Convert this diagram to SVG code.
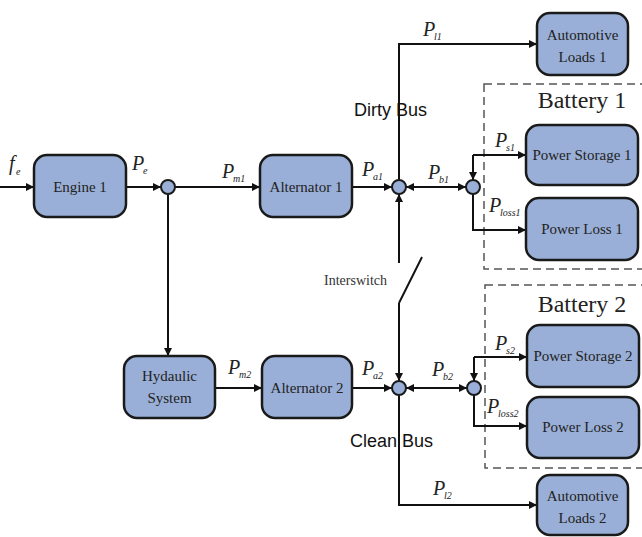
<svg xmlns="http://www.w3.org/2000/svg" width="642" height="537" viewBox="0 0 642 537">
<defs>
<marker id="ah" viewBox="0 0 10 10" refX="10" refY="5" markerWidth="9" markerHeight="8" markerUnits="userSpaceOnUse" orient="auto">
<path d="M0,0 L10,5 L0,10 z" fill="#111"/>
</marker>
<marker id="ahs" viewBox="0 0 10 10" refX="0" refY="5" markerWidth="9" markerHeight="8" markerUnits="userSpaceOnUse" orient="auto">
<path d="M10,0 L0,5 L10,10 z" fill="#111"/>
</marker>
</defs>
<style>
.box{fill:#99afd7;stroke:#1a1a1a;stroke-width:2.5}
.jn{fill:#99afd7;stroke:#1a1a1a;stroke-width:2}
.bl{font-size:15px;fill:#222;text-anchor:middle}
.c{fill:none;stroke:#111;stroke-width:2}
.a{marker-end:url(#ah)}
.dash{fill:none;stroke:#555;stroke-width:1.5;stroke-dasharray:8 5}
.P{font-style:italic;font-size:20px;fill:#222}
.s{font-style:italic;font-size:10px;fill:#222}
.bus{font-size:18px;fill:#111}
.bat{font-size:24px;fill:#222;text-anchor:middle}
.isw{font-size:14px;fill:#333}
</style>
<rect width="642" height="537" fill="#fff"/>

<g font-family="Liberation Serif, serif">
<rect class="dash" x="484" y="84" width="170" height="185"/>
<rect class="dash" x="485" y="285" width="170" height="183"/>
<text class="bat" x="582" y="108">Battery 1</text>
<text class="bat" x="582" y="312">Battery 2</text>
</g>

<g id="connectors">
<path class="c a" d="M0,187 L34,187"/>
<path class="c a" d="M126,187 L161,187"/>
<path class="c a" d="M175,187 L260,187"/>
<path class="c a" d="M168,194 L168,356"/>
<path class="c a" d="M215,388 L262,388"/>
<path class="c a" d="M352,187 L392,187"/>
<path class="c a" d="M352,388 L392,388"/>
<path class="c a" d="M399,180 L399,44 L537,44"/>
<path class="c a" d="M406,187 L466,187" marker-start="url(#ahs)"/>
<path class="c a" d="M473,155 L473,180"/>
<path class="c a" d="M473,155 L526,155"/>
<path class="c a" d="M473,194 L473,230 L526,230"/>
<path class="c a" d="M399,263 L399,194"/>
<path class="c" d="M399,303 L422,257"/>
<path class="c a" d="M399,303 L399,381"/>
<path class="c a" d="M406,388 L467,388" marker-start="url(#ahs)"/>
<path class="c a" d="M474,357 L474,381"/>
<path class="c a" d="M474,357 L527,357"/>
<path class="c a" d="M474,395 L474,426 L527,426"/>
<path class="c a" d="M399,395 L399,505 L537,505"/>
</g>

<g font-family="Liberation Serif, serif">
<g id="engine1"><rect class="box" x="34" y="155" width="92" height="62" rx="13"/><text class="bl" x="80" y="192">Engine 1</text></g>
<g id="alternator1"><rect class="box" x="260" y="155" width="92" height="62" rx="13"/><text class="bl" x="306" y="192">Alternator 1</text></g>
<g id="hydraulic"><rect class="box" x="124" y="356" width="91" height="62" rx="13"/><text class="bl" x="169.5" y="381">Hydaulic</text><text class="bl" x="169.5" y="403">System</text></g>
<g id="alternator2"><rect class="box" x="262" y="356" width="90" height="62" rx="13"/><text class="bl" x="307" y="393">Alternator 2</text></g>
<g id="j1"><circle class="jn" cx="168" cy="187" r="7"/></g>
<g id="dirtybus"><circle class="jn" cx="399" cy="187" r="7"/></g>
<g id="cleanbus"><circle class="jn" cx="399" cy="388" r="7"/></g>
<g id="jb1"><circle class="jn" cx="473" cy="187" r="7"/></g>
<g id="jb2"><circle class="jn" cx="474" cy="388" r="7"/></g>
<g id="loads1"><rect class="box" x="537" y="13" width="91" height="62" rx="13"/><text class="bl" x="582.5" y="40">Automotive</text><text class="bl" x="582.5" y="62">Loads 1</text></g>
<g id="storage1"><rect class="box" x="526" y="125" width="112" height="60" rx="13"/><text class="bl" x="582" y="160">Power Storage 1</text></g>
<g id="loss1"><rect class="box" x="526" y="198" width="112" height="62" rx="13"/><text class="bl" x="582" y="234">Power Loss 1</text></g>
<g id="storage2"><rect class="box" x="527" y="325" width="112" height="62" rx="13"/><text class="bl" x="583" y="361">Power Storage 2</text></g>
<g id="loss2"><rect class="box" x="527" y="397" width="112" height="61" rx="13"/><text class="bl" x="583" y="432">Power Loss 2</text></g>
<g id="loads2"><rect class="box" x="537" y="475" width="91" height="60" rx="13"/><text class="bl" x="582.5" y="501">Automotive</text><text class="bl" x="582.5" y="523">Loads 2</text></g>
</g>

<g id="labels" font-family="Liberation Serif, serif">
<text class="P" x="9" y="170" font-size="22">f</text><text class="s" x="16" y="175" font-size="11">e</text>
<text class="P" x="132" y="170">P</text><text class="s" x="143" y="174">e</text>
<text class="P" x="222" y="178">P</text><text class="s" x="233" y="182">m1</text>
<text class="P" x="362" y="176">P</text><text class="s" x="373" y="180">a1</text>
<text class="P" x="428" y="179">P</text><text class="s" x="439" y="183">b1</text>
<text class="P" x="423" y="36">P</text><text class="s" x="434" y="40">l1</text>
<text class="P" x="495" y="147">P</text><text class="s" x="506" y="151">s1</text>
<text class="P" x="489" y="212">P</text><text class="s" x="500" y="216">loss1</text>
<text class="P" x="228" y="374">P</text><text class="s" x="239" y="378">m2</text>
<text class="P" x="362" y="375">P</text><text class="s" x="373" y="379">a2</text>
<text class="P" x="432" y="376">P</text><text class="s" x="443" y="380">b2</text>
<text class="P" x="495" y="350">P</text><text class="s" x="506" y="354">s2</text>
<text class="P" x="487" y="413">P</text><text class="s" x="498" y="417">loss2</text>
<text class="P" x="433" y="495">P</text><text class="s" x="444" y="499">l2</text>
<text class="isw" x="324" y="285">Interswitch</text>
</g>
<g font-family="Liberation Sans, Arial, sans-serif">
<text class="bus" x="354" y="116">Dirty Bus</text>
<text class="bus" x="350" y="447">Clean Bus</text>
</g>
</svg>
